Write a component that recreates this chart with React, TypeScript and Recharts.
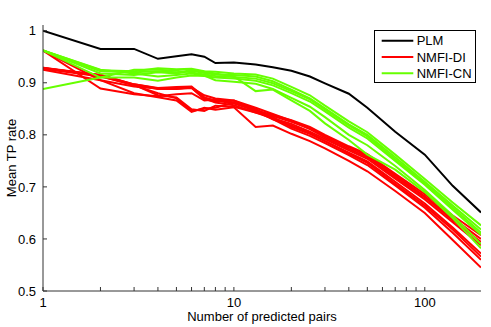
import React from 'react';
import { LineChart, Line, XAxis, YAxis, Legend } from 'recharts';

// number of predicted pairs (log axis)
const pairs = [1, 2, 3, 4, 5, 6, 7, 8, 10, 13, 16, 20, 25, 30, 40, 50, 70, 100, 140, 197];

const plm = [1.0, 0.965, 0.965, 0.946, 0.951, 0.955, 0.95, 0.938, 0.939, 0.935, 0.93, 0.923, 0.912, 0.899, 0.879, 0.852, 0.806, 0.762, 0.702, 0.651];

// NMFI-DI runs
const di1 = [0.962, 0.905, 0.893, 0.889, 0.889, 0.891, 0.876, 0.87, 0.866, 0.848, 0.836, 0.825, 0.812, 0.798, 0.776, 0.76, 0.722, 0.682, 0.64, 0.6];
const di2 = [0.962, 0.889, 0.878, 0.874, 0.878, 0.88, 0.866, 0.868, 0.862, 0.845, 0.83, 0.818, 0.803, 0.788, 0.766, 0.749, 0.71, 0.668, 0.622, 0.572];
const di3 = [0.929, 0.915, 0.897, 0.89, 0.892, 0.893, 0.872, 0.866, 0.86, 0.847, 0.838, 0.828, 0.815, 0.8, 0.778, 0.763, 0.725, 0.686, 0.645, 0.607];
const di4 = [0.927, 0.912, 0.896, 0.888, 0.888, 0.89, 0.87, 0.862, 0.857, 0.843, 0.832, 0.821, 0.806, 0.792, 0.77, 0.754, 0.716, 0.676, 0.632, 0.588];
const di5 = [0.929, 0.913, 0.895, 0.88, 0.87, 0.846, 0.85, 0.852, 0.862, 0.85, 0.83, 0.812, 0.798, 0.784, 0.761, 0.742, 0.703, 0.66, 0.612, 0.56];
const di6 = [0.928, 0.914, 0.896, 0.876, 0.872, 0.849, 0.846, 0.856, 0.854, 0.843, 0.834, 0.815, 0.802, 0.788, 0.764, 0.746, 0.706, 0.664, 0.618, 0.566];
const di7 = [0.925, 0.905, 0.88, 0.872, 0.866, 0.844, 0.852, 0.848, 0.853, 0.815, 0.818, 0.802, 0.788, 0.774, 0.75, 0.73, 0.692, 0.65, 0.598, 0.545];
const di8 = [0.928, 0.915, 0.897, 0.889, 0.889, 0.891, 0.868, 0.864, 0.866, 0.852, 0.84, 0.827, 0.811, 0.795, 0.773, 0.757, 0.719, 0.68, 0.636, 0.594];

// NMFI-CN runs
const cn1 = [0.962, 0.924, 0.922, 0.928, 0.926, 0.927, 0.922, 0.921, 0.918, 0.916, 0.908, 0.892, 0.876, 0.856, 0.826, 0.805, 0.762, 0.715, 0.67, 0.626];
const cn2 = [0.962, 0.918, 0.915, 0.92, 0.918, 0.923, 0.919, 0.916, 0.915, 0.912, 0.903, 0.887, 0.87, 0.851, 0.82, 0.8, 0.757, 0.71, 0.664, 0.618];
const cn3 = [0.962, 0.91, 0.91, 0.904, 0.91, 0.914, 0.913, 0.91, 0.908, 0.904, 0.895, 0.88, 0.864, 0.845, 0.814, 0.793, 0.75, 0.704, 0.656, 0.608];
const cn4 = [0.888, 0.91, 0.925, 0.925, 0.923, 0.92, 0.916, 0.913, 0.911, 0.908, 0.899, 0.884, 0.868, 0.849, 0.818, 0.797, 0.753, 0.707, 0.66, 0.612];
const cn5 = [0.962, 0.925, 0.918, 0.912, 0.915, 0.918, 0.914, 0.905, 0.902, 0.898, 0.888, 0.871, 0.854, 0.834, 0.8, 0.78, 0.74, 0.694, 0.645, 0.59];
const cn6 = [0.962, 0.922, 0.92, 0.922, 0.92, 0.924, 0.921, 0.918, 0.912, 0.884, 0.887, 0.866, 0.846, 0.822, 0.79, 0.762, 0.733, 0.69, 0.64, 0.582];

const diRuns = [di1, di2, di3, di4, di5, di6, di7, di8];
const cnRuns = [cn1, cn2, cn3, cn4, cn5, cn6];

const legendOrder = ['PLM', 'NMFI-DI', 'NMFI-CN'];
const xTicks = [1, 2, 3, 4, 5, 6, 7, 8, 9, 10, 20, 30, 40, 50, 60, 70, 80, 90, 100];
const xLabels = [1, 10, 100];
const yTicks = [0.5, 0.6, 0.7, 0.8, 0.9, 1];

const font = '"Liberation Sans", Arial, sans-serif';
const axisColor = '#333';

const data = pairs.map((x, i) => {
  const row: Record<string, number> = { x, plm: plm[i] };
  diRuns.forEach((r, j) => (row['di' + j] = r[i]));
  cnRuns.forEach((r, j) => (row['cn' + j] = r[i]));
  return row;
});

function XTick(props: any) {
  const { x, y, payload } = props;
  if (!xLabels.includes(payload.value)) return <g />;
  return (
    <text x={x} y={y + 19.5} textAnchor="middle" fontSize={13} fontFamily={font} fill="#000">
      {payload.value}
    </text>
  );
}

function LegendBox(props: any) {
  const items = (props.payload || [])
    .filter((p: any) => p.type !== 'none')
    .sort((a: any, b: any) => legendOrder.indexOf(a.value) - legendOrder.indexOf(b.value));
  return (
    <svg width={102} height={53} style={{ display: 'block' }}>
      <rect x={0.5} y={0.5} width={101} height={52} fill="#fff" stroke="#000" />
      {items.map((p: any, i: number) => {
        const cy = 10.7 + i * 16.3;
        return (
          <g key={p.value}>
            <line x1={7.7} x2={39.3} y1={cy} y2={cy} stroke={p.color} strokeWidth={2} />
            <text x={42.7} y={cy} dominantBaseline="central" fontSize={13} fontFamily={font} fill="#000">
              {p.value}
            </text>
          </g>
        );
      })}
    </svg>
  );
}

export default function App() {
  return (
    <div style={{ position: 'absolute', left: 0, top: 0, width: 491, height: 327, background: '#fff' }}>
      <LineChart width={491} height={327} data={data} margin={{ top: 25, right: 10, left: 0, bottom: 0 }}>
        <XAxis
          xAxisId="b"
          dataKey="x"
          type="number"
          scale="log"
          domain={[1, 197]}
          allowDataOverflow
          ticks={xTicks}
          interval={0}
          height={36}
          tickSize={-4}
          tickMargin={0}
          tick={<XTick />}
          stroke={axisColor}
          label={{
            content: () => (
              <text x={262} y={321} textAnchor="middle" fontSize={13} fontFamily={font} fill="#000">
                Number of predicted pairs
              </text>
            ),
          }}
        />
        <XAxis
          xAxisId="t"
          orientation="top"
          type="number"
          scale="log"
          domain={[1, 197]}
          allowDataOverflow
          ticks={xTicks}
          interval={0}
          height={0}
          tickSize={-4}
          tick={false}
          stroke={axisColor}
        />
        <YAxis
          yAxisId="l"
          type="number"
          domain={[0.5, 1.011]}
          allowDataOverflow
          ticks={yTicks}
          interval={0}
          width={43}
          tickSize={-4}
          tickMargin={11}
          tick={{ fontSize: 13, fontFamily: font, fill: '#000' }}
          stroke={axisColor}
          label={{
            content: () => (
              <text
                x={11}
                y={158}
                transform="rotate(-90 11 158)"
                textAnchor="middle"
                dominantBaseline="central"
                fontSize={13}
                fontFamily={font}
                fill="#000"
              >
                Mean TP rate
              </text>
            ),
          }}
        />
        <YAxis
          yAxisId="r"
          orientation="right"
          type="number"
          domain={[0.5, 1.011]}
          allowDataOverflow
          ticks={yTicks}
          interval={0}
          width={0}
          tickSize={-4}
          tick={false}
          stroke={axisColor}
        />
        <Legend
          layout="horizontal"
          verticalAlign="middle"
          align="center"
          content={<LegendBox />}
          wrapperStyle={{ position: 'absolute', left: 374, top: 30, width: 102, height: 53 }}
        />
        <Line
          xAxisId="b"
          yAxisId="l"
          dataKey="plm"
          name="PLM"
          stroke="#000"
          strokeWidth={2}
          dot={false}
          isAnimationActive={false}
        />
        {diRuns.map((_, j) => (
          <Line
            key={'di' + j}
            xAxisId="b"
            yAxisId="l"
            dataKey={'di' + j}
            name="NMFI-DI"
            legendType={j === 0 ? 'line' : 'none'}
            stroke="#ff0000"
            strokeWidth={2}
            dot={false}
            isAnimationActive={false}
          />
        ))}
        {cnRuns.map((_, j) => (
          <Line
            key={'cn' + j}
            xAxisId="b"
            yAxisId="l"
            dataKey={'cn' + j}
            name="NMFI-CN"
            legendType={j === 0 ? 'line' : 'none'}
            stroke="#66ff00"
            strokeWidth={2}
            dot={false}
            isAnimationActive={false}
          />
        ))}
      </LineChart>
    </div>
  );
}
